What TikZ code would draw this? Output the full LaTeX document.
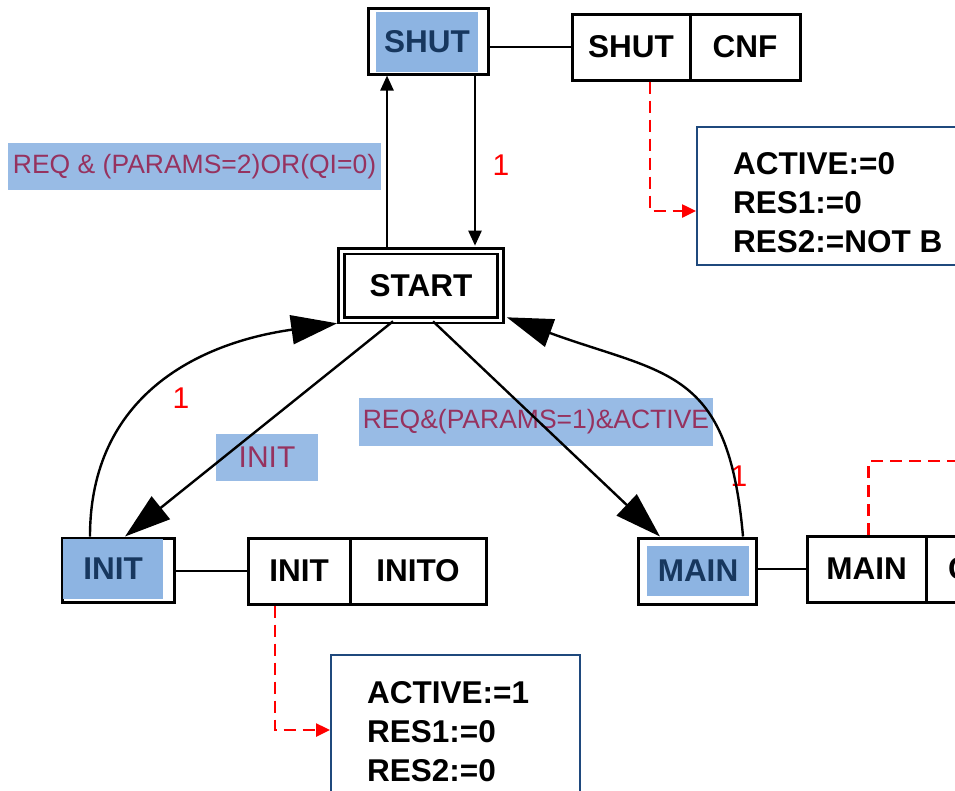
\documentclass[tikz,border=0pt]{standalone}
\usepackage{fontspec}
\setmainfont{Liberation Sans}
\usetikzlibrary{arrows.meta}
\definecolor{stfill}{HTML}{8DB4E2}
\definecolor{sttext}{HTML}{17375E}
\definecolor{lbltext}{RGB}{150,50,95}
\definecolor{actborder}{HTML}{1F497D}
\begin{document}
\begin{tikzpicture}
  [x=1pt,y=-1pt,line width=2.4pt,
   state/.style={draw,line width=3pt,rectangle,inner sep=0pt},
   fillbox/.style={fill=stfill,text=sttext,inner sep=0pt,font=\fontsize{31.5}{37}\selectfont\bfseries},
   cell/.style={draw,line width=3pt,minimum height=66pt,inner sep=0pt,font=\fontsize{31.5}{37}\selectfont\bfseries},
   lbl/.style={fill=stfill,fill opacity=0.9,text opacity=1,text=lbltext,inner sep=0pt,font=\fontsize{26.5}{32}\selectfont},
   one/.style={text=red,inner sep=0pt,font=\fontsize{30}{36}\selectfont},
   actbox/.style={draw=actborder,line width=2pt,inner sep=0pt},
   acttext/.style={align=left,inner sep=0pt,anchor=north west,font=\fontsize{31.5}{39}\selectfont\bfseries},
   big/.style={-{Triangle[length=46pt,width=29pt]}},
   small/.style={-{Triangle[length=15pt,width=13pt]}},
   reddash/.style={red,line width=2.5pt,dash pattern=on 12pt off 7pt,-{Triangle[length=14pt,width=13pt]}}]
  \useasboundingbox (0,0) rectangle (955,790);
  \clip (0,0) rectangle (955,790);

  % states
  \node (shut) [state,minimum width=120pt,minimum height=66pt] at (428,41) {};
  \node (shutF) [fillbox,minimum width=102pt,minimum height=60pt] at (427,42) {SHUT};
  \node (start) [state,double,double distance=3pt,line width=2.6pt,minimum width=159pt,minimum height=69pt,
    font=\fontsize{31.5}{37}\selectfont\bfseries] at (421,285.5) {START};
  \node (init) [state,minimum width=112pt,minimum height=64pt] at (118,570) {};
  \node (initF) [fillbox,minimum width=100pt,minimum height=60pt] at (113,569) {INIT};
  \node (main) [state,minimum width=118pt,minimum height=66pt] at (697,571) {};
  \node (mainF) [fillbox,minimum width=102pt,minimum height=50pt] at (698,571) {MAIN};

  % tables
  \node (shutT1) [cell,minimum width=118pt] at (631,47) {SHUT};
  \node (shutT2) [cell,minimum width=110pt] at (745,47) {CNF};
  \node (initT1) [cell,minimum width=102pt] at (299,571) {INIT};
  \node (initT2) [cell,minimum width=136pt] at (418,571) {INITO};
  \node (mainT1) [cell,minimum width=119pt] at (866.5,569) {MAIN};
  \node (mainT2) [cell,minimum width=148pt,text width=104pt] at (1000,569) {C};
  \coordinate (mainOff) at (980,461);

  % actions
  \node (act0) [actbox,minimum width=278pt,minimum height=138pt] at (836,196) {};
  \node (act0txt) [acttext] at (732,151) {ACTIVE:=0\\RES1:=0\\RES2:=NOT B};
  \node (act1) [actbox,minimum width=249pt,minimum height=144pt] at (455.5,727) {};
  \node (act1txt) [acttext] at (366,680) {ACTIVE:=1\\RES1:=0\\RES2:=0};

  % labels
  \node (lblShut) [lbl,minimum width=373pt,minimum height=47pt] at (194.5,166.5) {REQ \& (PARAMS=2)OR(QI=0)};
  \node (lblInit) [lbl,minimum width=102pt,minimum height=47pt,font=\fontsize{30}{36}\selectfont] at (267,457.5) {INIT};
  \node (lblMain) [lbl,minimum width=354pt,minimum height=48pt] at (536,422) {REQ\&(PARAMS=1)\&ACTIVE};
  \node (one1) [one] at (501,165) {1};
  \node (one2) [one] at (181,398) {1};
  \node (one3) [one] at (739,476) {1};

  % transitions
  \draw[small] ([xshift=-34pt]start.north) -- ([xshift=-41pt]shut.south);
  \draw[small] ([xshift=47pt]shut.south) -- ([xshift=54pt,yshift=4pt]start.north);
  \draw[big] ([xshift=-28pt]start.south) -- ([xshift=7pt]init.north);
  \draw[big] ([xshift=-28pt]init.north) to[out=90,in=188,looseness=1.1] ([xshift=-3pt,yshift=-2pt]start.south west);
  \draw[big] ([xshift=12pt]start.south) -- ([xshift=-37pt]main.north);
  \draw[big] ([xshift=46pt]main.north) to[out=95,in=-20,looseness=1.35] ([xshift=5pt,yshift=4pt]start.south east);

  \foreach \s/\t in {shut/shutT1,init/initT1,main/mainT1}
    \draw (\s.east |- \t.west) -- (\t.west);

  \draw[reddash] ([xshift=19pt]shutT1.south) |- ([yshift=-15pt]act0.west);
  \draw[reddash] ([xshift=-24pt]initT1.south) |- ([yshift=-3pt]act1.west);
  \draw[red,line width=2.5pt,dash pattern=on 12pt off 7pt] ([xshift=2pt]mainT1.north) |- (mainOff);
\end{tikzpicture}
\end{document}
